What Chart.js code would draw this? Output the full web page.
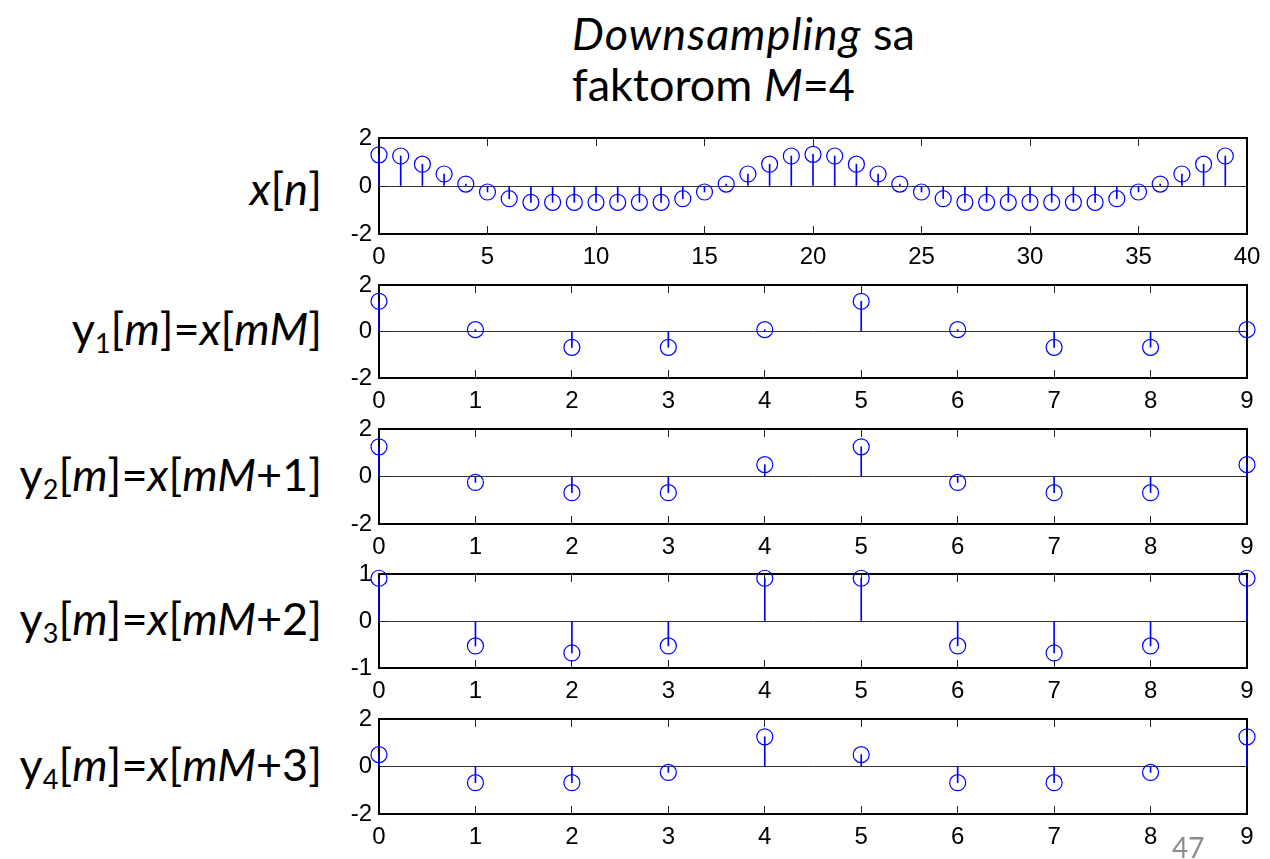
<!DOCTYPE html>
<html>
<head>
<meta charset="utf-8">
<script src="https://cdn.jsdelivr.net/npm/chart.js@4.4.0/dist/chart.umd.min.js"></script>
<style>
  html, body { margin: 0; padding: 0; background: #fff; }
  #stage { position: relative; width: 1270px; height: 859px; overflow: hidden; background: #fff; }
  canvas.panel { position: absolute; left: 0; }
  .title { position: absolute; left: 572px; top: 8px; font-family: Lato, "Open Sans", sans-serif;
           font-size: 45px; line-height: 51px; color: #000; white-space: nowrap; }
  .title .wide { letter-spacing: 1px; }
  .lbl { position: absolute; right: 948px; font-family: Lato, "Open Sans", sans-serif; font-size: 45px;
         line-height: 54px; color: #000; white-space: nowrap; transform: translateY(-50%); }
  .lbl .sub { font-size: 0.6em; position: relative; top: 0.28em; }
  i { font-style: italic; }
  .page { position: absolute; left: 1172px; top: 833px; font-family: Lato, "Open Sans", sans-serif;
          font-size: 28px; line-height: 28px; color: #8c8c8c; }
</style>
</head>
<body>
<div id="stage">
  <div class="title"><i class="wide">Downsampling</i> sa<br>faktorom <i>M</i>=4</div>

  <div class="lbl" style="top:188px"><i>x</i>[<i>n</i>]</div>
  <div class="lbl" style="top:331px">y<span class="sub">1</span>[<i>m</i>]=<i>x</i>[<i>mM</i>]</div>
  <div class="lbl" style="top:477px">y<span class="sub">2</span>[<i>m</i>]=<i>x</i>[<i>mM</i>+1]</div>
  <div class="lbl" style="top:621px">y<span class="sub">3</span>[<i>m</i>]=<i>x</i>[<i>mM</i>+2]</div>
  <div class="lbl" style="top:767px">y<span class="sub">4</span>[<i>m</i>]=<i>x</i>[<i>mM</i>+3]</div>

  <canvas class="panel" id="pX"></canvas>
  <canvas class="panel" id="pY1"></canvas>
  <canvas class="panel" id="pY2"></canvas>
  <canvas class="panel" id="pY3"></canvas>
  <canvas class="panel" id="pY4"></canvas>

  <div class="page">47</div>
</div>

<script>
// Sample indices
const nIndex = [0,1,2,3,4,5,6,7,8,9,10,11,12,13,14,15,16,17,18,19,
                20,21,22,23,24,25,26,27,28,29,30,31,32,33,34,35,36,37,38,39];
const mIndex = [0,1,2,3,4,5,6,7,8,9];

// Original signal x[n]
const xValues = [1.3, 1.25, 0.91, 0.5, 0.08, -0.25, -0.53, -0.68, -0.68, -0.68,
                 -0.68, -0.68, -0.68, -0.68, -0.53, -0.25, 0.08, 0.5, 0.91, 1.25,
                 1.32, 1.25, 0.91, 0.5, 0.08, -0.25, -0.53, -0.68, -0.68, -0.68,
                 -0.68, -0.68, -0.68, -0.68, -0.53, -0.25, 0.08, 0.5, 0.91, 1.25];

// Downsampled branches y_k[m] = x[mM+k], M = 4
const y1Values = [1.3, 0.08, -0.68, -0.68, 0.08, 1.3, 0.08, -0.68, -0.68, 0.08];
const y2Values = [1.25, -0.25, -0.68, -0.68, 0.5, 1.25, -0.25, -0.68, -0.68, 0.5];
const y3Values = [0.91, -0.53, -0.68, -0.53, 0.91, 0.91, -0.53, -0.68, -0.53, 0.91];
const y4Values = [0.5, -0.68, -0.68, -0.25, 1.25, 0.5, -0.68, -0.68, -0.25, 1.25];

// Tick labels
const nTicks = [0,5,10,15,20,25,30,35,40];
const mTicks = [0,1,2,3,4,5,6,7,8,9];
const ampTicks2 = [-2,0,2];
const ampTicks1 = [-1,0,1];

// Layout
const PLOT_LEFT = 379, PLOT_RIGHT = 1247;
const PAD_TOP = 16, AXIS_BOTTOM = 44;
const STEM = 'rgb(0,0,255)';
const TICK_FONT = { family: '"Liberation Sans", Arial, sans-serif', size: 24 };

function setTicks(vals) {
  return scale => { scale.ticks = vals.map(v => ({ value: v })); };
}
function fixWidth(w) {
  return s => { s.width = w; s.paddingLeft = s.paddingRight = s.paddingTop = s.paddingBottom = 0; };
}
function fixHeight(h) {
  return s => { s.height = h; s.paddingLeft = s.paddingRight = s.paddingTop = s.paddingBottom = 0; };
}

function stemPanel(id, xs, ys, xMin, xMax, xTickVals, yMin, yMax, yTickVals, plotTop, plotBottom) {
  const cv = document.getElementById(id);
  const h = plotBottom - plotTop + PAD_TOP + AXIS_BOTTOM;
  cv.width = 1270; cv.height = h;
  cv.style.width = '1270px'; cv.style.height = h + 'px';
  cv.style.top = (plotTop - PAD_TOP) + 'px';
  const pts = xs.map((x, i) => ({ x: x, y: ys[i] }));

  const boxTicks = { drawOnChartArea: false, drawTicks: true, tickLength: -8, tickColor: '#222', tickWidth: 1 };
  const border = { display: true, color: '#000', width: 2 };

  new Chart(cv, {
    type: 'bar',
    data: {
      datasets: [
        { type: 'bar', data: pts, backgroundColor: STEM, borderWidth: 0,
          barThickness: 1, grouped: false, clip: false, order: 2 },
        { type: 'line', data: pts, showLine: false, pointStyle: 'circle', pointRadius: 8,
          pointBorderWidth: 1.2, pointBorderColor: STEM, pointBackgroundColor: 'rgba(0,0,0,0)',
          clip: false, order: 1 }
      ]
    },
    options: {
      responsive: false, animation: false, devicePixelRatio: 1,
      layout: { padding: { left: 0, right: 1270 - PLOT_RIGHT, top: PAD_TOP, bottom: 0 } },
      plugins: { legend: { display: false }, tooltip: { enabled: false } },
      events: [],
      scales: {
        x: { type: 'linear', position: 'bottom', min: xMin, max: xMax, offset: false,
             afterBuildTicks: setTicks(xTickVals), afterFit: fixHeight(AXIS_BOTTOM),
             grid: Object.assign({ offset: false }, boxTicks), border: border,
             ticks: { font: TICK_FONT, color: '#000', padding: 17, maxRotation: 0, autoSkip: false } },
        xTop: { type: 'linear', position: 'top', min: xMin, max: xMax, offset: false,
                afterBuildTicks: setTicks(xTickVals), afterFit: fixHeight(0),
                grid: Object.assign({ offset: false }, boxTicks), border: border,
                ticks: { display: false } },
        y: { type: 'linear', position: 'left', min: yMin, max: yMax,
             afterBuildTicks: setTicks(yTickVals), afterFit: fixWidth(PLOT_LEFT),
             grid: { drawOnChartArea: true, drawTicks: true, tickLength: -8, tickColor: '#222',
                     color: c => (c.tick && c.tick.value === 0) ? '#333' : 'rgba(0,0,0,0)', lineWidth: 1 },
             border: border,
             ticks: { font: TICK_FONT, color: '#000', padding: 15, autoSkip: false } },
        yRight: { type: 'linear', position: 'right', min: yMin, max: yMax,
                  afterBuildTicks: setTicks(yTickVals), afterFit: fixWidth(0),
                  grid: boxTicks, border: border, ticks: { display: false } }
      }
    }
  });
}

stemPanel('pX',  nIndex, xValues,  0, 40, nTicks, -2, 2, ampTicks2, 138, 234);
stemPanel('pY1', mIndex, y1Values, 0, 9,  mTicks, -2, 2, ampTicks2, 285, 378);
stemPanel('pY2', mIndex, y2Values, 0, 9,  mTicks, -2, 2, ampTicks2, 429, 524);
stemPanel('pY3', mIndex, y3Values, 0, 9,  mTicks, -1, 1, ampTicks1, 574, 668);
stemPanel('pY4', mIndex, y4Values, 0, 9,  mTicks, -2, 2, ampTicks2, 719, 814);
</script>
</body>
</html>
